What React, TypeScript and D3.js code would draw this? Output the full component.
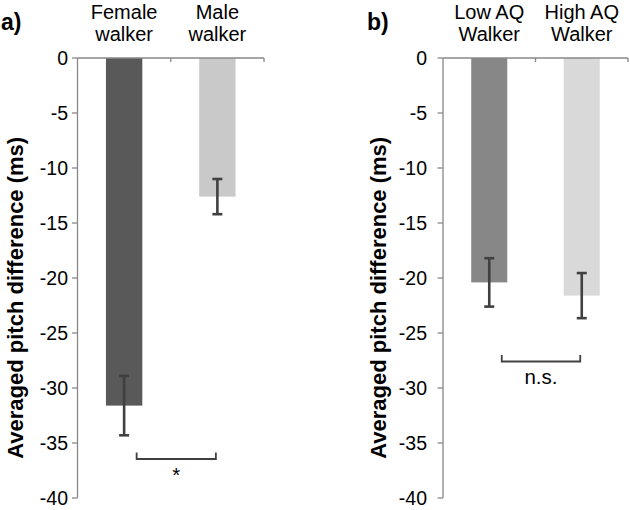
import React from "react";
import * as d3 from "d3";

const panelALabels = ["a)"];
const categoriesA = [["Female", "walker"], ["Male", "walker"]];
const valuesA = [-31.6, -12.6];
const errorsA = [2.7, 1.6];
const colorsA = ["#595959", "#c9c9c9"];

const categoriesB = [["Low AQ", "Walker"], ["High AQ", "Walker"]];
const valuesB = [-20.4, -21.6];
const errorsB = [2.2, 2.05];
const colorsB = ["#878787", "#d9d9d9"];

const yTicks = [0, -5, -10, -15, -20, -25, -30, -35, -40];
const yTitle = "Averaged pitch difference (ms)";
const sigA = "*";
const sigB = "n.s.";

const FONT = "'Liberation Sans', Arial, sans-serif";

type PanelProps = {
  label: string;
  cats: string[][];
  values: number[];
  errors: number[];
  colors: string[];
  x0: number;
  x1: number;
  labelX: number;
  titleX: number;
  tickLabelX: number;
  sig: string;
  sigY: number;
  sigTextY: number;
};

function Panel(p: PanelProps) {
  const y = d3.scaleLinear().domain([0, -40]).range([58, 498]);
  const x = d3
    .scaleBand<number>()
    .domain(p.values.map((_, i) => i))
    .range([p.x0, p.x1])
    .paddingInner(0)
    .paddingOuter(0);
  const bw = x.bandwidth() * 0.39;
  const axisColor = "#888888";
  const errColor = "#404040";
  const c0 = x(0)! + x.bandwidth() / 2;
  const c1 = x(1)! + x.bandwidth() / 2;
  const bl = c0 + 12.5;
  const br = c1 - 1.5;
  return (
    <g>
      <text x={p.labelX} y={30} fontFamily={FONT} fontWeight="bold" fontSize={23}>
        {p.label}
      </text>
      {p.cats.map((c, i) => (
        <text
          key={i}
          x={x(i)! + x.bandwidth() / 2}
          textAnchor="middle"
          fontFamily={FONT}
          fontSize={20}
          fill="#000"
        >
          <tspan x={x(i)! + x.bandwidth() / 2} y={18.5}>{c[0]}</tspan>
          <tspan x={x(i)! + x.bandwidth() / 2} y={40.5}>{c[1]}</tspan>
        </text>
      ))}
      <text
        transform={`translate(${p.titleX},${y(-21.8)}) rotate(-90)`}
        textAnchor="middle"
        dominantBaseline="central"
        fontFamily={FONT}
        fontWeight="bold"
        fontSize={22}
      >
        {yTitle}
      </text>
      {p.values.map((v, i) => {
        const cx = x(i)! + x.bandwidth() / 2;
        return (
          <rect
            key={i}
            x={cx - bw / 2}
            y={y(0)}
            width={bw}
            height={y(v) - y(0)}
            fill={p.colors[i]}
          />
        );
      })}
      <line x1={p.x0} x2={p.x0} y1={y(0)} y2={y(-40)} stroke={axisColor} strokeWidth={1.3} />
      {yTicks.map((t) => (
        <g key={t}>
          <line x1={p.x0 - 5.5} x2={p.x0} y1={y(t)} y2={y(t)} stroke={axisColor} strokeWidth={1.3} />
          <text
            x={p.tickLabelX}
            y={y(t)}
            textAnchor="end"
            dominantBaseline="central"
            fontFamily={FONT}
            fontSize={19.5}
          >
            {t === 0 ? "0" : "-" + Math.abs(t)}
          </text>
        </g>
      ))}
      <line x1={p.x0} x2={p.x1} y1={y(0)} y2={y(0)} stroke={axisColor} strokeWidth={1.3} />
      {[x(1)!, p.x1].map((tx, i) => (
        <line key={i} x1={tx} x2={tx} y1={y(0)} y2={y(0) + 4} stroke={axisColor} strokeWidth={1.3} />
      ))}
      {p.values.map((v, i) => {
        const cx = x(i)! + x.bandwidth() / 2;
        const e = p.errors[i];
        return (
          <g key={i} stroke={errColor} strokeWidth={2.6}>
            <line x1={cx} x2={cx} y1={y(v + e)} y2={y(v - e)} />
            <line x1={cx - 5} x2={cx + 5} y1={y(v + e)} y2={y(v + e)} />
            <line x1={cx - 5} x2={cx + 5} y1={y(v - e)} y2={y(v - e)} />
          </g>
        );
      })}
      <path
        d={`M${bl},${p.sigY - 6.5}V${p.sigY}H${br}V${p.sigY - 6.5}`}
        fill="none"
        stroke={errColor}
        strokeWidth={1.8}
      />
      <text
        x={(bl + br) / 2}
        y={p.sigTextY}
        textAnchor="middle"
        fontFamily={FONT}
        fontSize={20.5}
      >
        {p.sig}
      </text>
    </g>
  );
}

export default function App() {
  return (
    <svg width={630} height={510} style={{ position: "absolute", left: 0, top: 0, background: "#fff" }}>
      <rect width={630} height={510} fill="#fff" />
      <Panel
        label={panelALabels[0]}
        cats={categoriesA}
        values={valuesA}
        errors={errorsA}
        colors={colorsA}
        x0={77.5}
        x1={264}
        labelX={1}
        titleX={15}
        tickLabelX={68}
        sig={sigA}
        sigY={459}
        sigTextY={482}
      />
      <Panel
        label="b)"
        cats={categoriesB}
        values={valuesB}
        errors={errorsB}
        colors={colorsB}
        x0={443}
        x1={628}
        labelX={367}
        titleX={378}
        tickLabelX={427}
        sig={sigB}
        sigY={361.5}
        sigTextY={384}
      />
    </svg>
  );
}
